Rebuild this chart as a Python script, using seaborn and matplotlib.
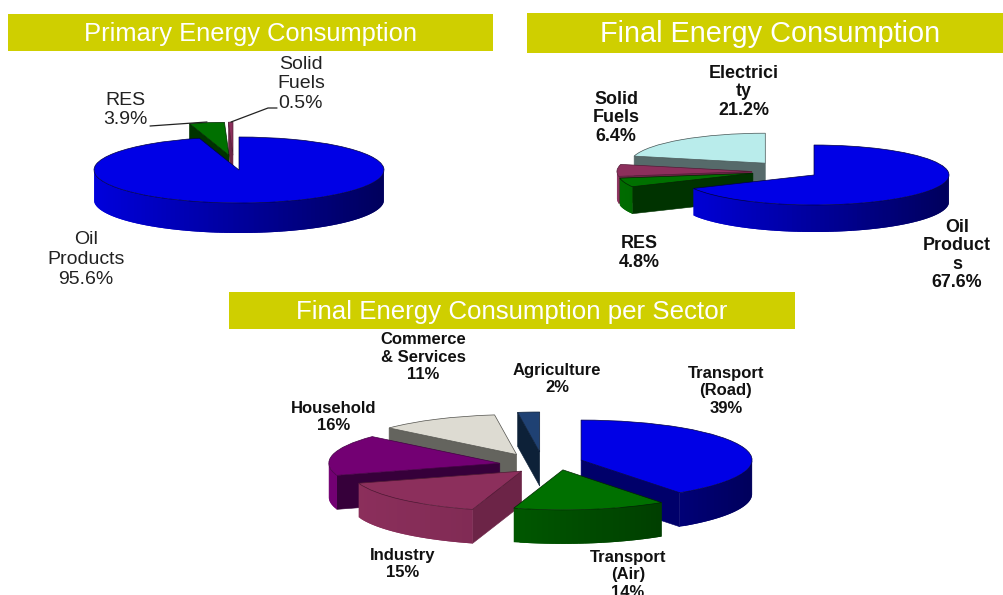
import numpy as np
import matplotlib
matplotlib.use("Agg")
import matplotlib.pyplot as plt
from matplotlib.colors import to_rgb
import seaborn as sns

# ---------- data ----------
primary_names = ["Oil\nProducts", "RES", "Solid\nFuels"]
primary_values = [95.6, 3.9, 0.5]

final_names = ["Oil\nProduct\ns", "RES", "Solid\nFuels", "Electrici\nty"]
final_values = [67.6, 4.8, 6.4, 21.2]

sector_names = ["Transport\n(Road)", "Transport\n(Air)", "Industry", "Household",
                "Commerce\n& Services", "Agriculture"]
sector_values = [39, 14, 15, 16, 11, 2]

titles = ["Primary Energy Consumption", "Final Energy Consumption",
          "Final Energy Consumption per Sector"]

# ---------- style ----------
W, H = 1004, 595
BAR = "#CFCF00"
sns.set_theme(style="white")
plt.rcParams["font.family"] = ["Liberation Sans", "DejaVu Sans"]

# top colour, rim left colour, rim right colour, cut-face colour
BLUE = ("#0000E6", "#0000DC", "#00005C", "#00006A")
GREEN = ("#007000", "#006C00", "#003300", "#003300")
MAROON = ("#8C2F5C", "#8C2F5C", "#6C2447", "#6C2447")
PURPLE = ("#730073", "#730073", "#5A005A", "#36003A")
CYAN = ("#B9ECEB", "#5A6E6E", "#5A6E6E", "#566A6A")
STONE = ("#DDDBD2", "#6A6A64", "#6A6A64", "#64645E")
NAVY = ("#1F4173", "#1F4173", "#122B4C", "#0D2138")


def mix(a, b, t):
    a, b = np.array(to_rgb(a)), np.array(to_rgb(b))
    return tuple(a * (1 - t) + b * t)


def pie3d(fig, values, styles, explode, order, cx, cy, rx, ry, depth, nudge=None):
    ax = fig.add_axes([0, 0, 1, 1], facecolor="none")
    wedges, _ = ax.pie(values, explode=explode, startangle=90, counterclock=False,
                       colors=[s[0] for s in styles], radius=1, frame=False)
    ax.set_aspect("auto")
    ax.set_xlim(-cx / rx, (W - cx) / rx)
    ax.set_ylim((cy - H) / ry, cy / ry)
    ax.axis("off")
    d = depth / ry
    nudge = nudge or {}
    for i, w in enumerate(wedges):
        top, left, right, face = styles[i]
        z = 10 + 10 * order[i]
        c0, c1 = w.center
        ndx, ndy = nudge.get(i, (0, 0))
        c0 += ndx / rx
        c1 -= ndy / ry
        w.set_center((c0, c1))
        w.set_zorder(z + 3)
        w.set_edgecolor(mix(right, "#000000", 0.25))
        w.set_linewidth(0.5)
        lo, hi = min(w.theta1, w.theta2), max(w.theta1, w.theta2)
        # cut faces that turn towards the viewer
        for ang, visible in ((lo, np.cos(np.radians(lo)) > 1e-6),
                             (hi, np.cos(np.radians(hi)) < -1e-6)):
            if visible:
                ex = c0 + np.cos(np.radians(ang))
                ey = c1 + np.sin(np.radians(ang))
                ax.fill([c0, ex, ex, c0], [c1, ey, ey - d, c1 - d], color=face,
                        lw=0.4, zorder=z + 1)
        # outer rim, in overlapping strips for the shading
        steps = np.clip(np.arange(lo, hi + 2, 2.0), lo, hi)
        for k, (a, b) in enumerate(zip(steps[:-1], steps[1:])):
            m = np.radians((a + b) / 2)
            if np.sin(m) >= 0:
                continue
            arc = np.radians(np.linspace(a, min(b + 2.0, hi), 6))
            arc = arc[np.sin(arc) <= 1e-9]
            xs = np.concatenate([c0 + np.cos(arc), c0 + np.cos(arc[::-1])])
            ys = np.concatenate([c1 + np.sin(arc), c1 + np.sin(arc[::-1]) - d])
            col = mix(left, right, (np.cos(m) + 1) / 2)
            ax.fill(xs, ys, color=col, lw=0, zorder=z + 2 + k * 1e-4)
    return ax


fig = plt.figure(figsize=(W / 100, H / 100), dpi=100, facecolor="white")

pie3d(fig, primary_values, [BLUE, GREEN, MAROON], [0, 0.45, 0.45], [2, 1, 0],
      239, 170, 145, 33, 30, nudge={2: (-5, 0)})
pie3d(fig, final_values, [BLUE, GREEN, MAROON, CYAN], [0, 0.46, 0.46, 0.5], [3, 2, 1, 0],
      814, 175, 135, 30, 27, nudge={1: (-2, -6), 2: (0, -3), 3: (-7, 0)})
pie3d(fig, sector_values, [BLUE, GREEN, MAROON, PURPLE, STONE, NAVY],
      [0.16, 0.25, 0.32, 0.33, 0.38, 0.3], [4, 5, 3, 2, 1, 0],
      555, 462, 171, 40, 34,
      nudge={1: (1, -2), 2: (5, 0), 3: (0, 4), 4: (-8, 6), 5: (-12, 2)})

# overlay in pixel coordinates: title bands, labels, leader lines
ov = fig.add_axes([0, 0, 1, 1], facecolor="none", zorder=20)
ov.set_xlim(0, W)
ov.set_ylim(H, 0)
ov.axis("off")

bands = [(8, 14, 485, 37, 251, 34.5, 18.4), (527, 13, 477, 40, 770, 34.5, 20.8),
         (229, 292, 566, 37, 512, 312, 18.6)]
for title, (x, y, w, h, tx, ty, fs) in zip(titles, bands):
    ov.fill([x, x + w, x + w, x], [y, y, y + h, y + h], color=BAR, lw=0)
    ov.text(tx, ty, title, color="white", fontsize=fs, ha="center", va="center")

primary_pos = [(86, 259.5), (125, 110), (301, 84)]
for name, v, (x, y) in zip(primary_names, primary_values, primary_pos):
    ov.text(x, y, f"{name}\n{v}%", ha="center", va="center", fontsize=14,
            color="#222222", linespacing=1.2)

final_pos = [(957, 255), (639, 253), (616, 118), (744, 92)]
for name, v, (x, y) in zip(final_names, final_values, final_pos):
    ov.text(x, y, f"{name}\n{v}%", ha="center", va="center", fontsize=12.9,
            fontweight="bold", color="#111111", linespacing=1.1)

sector_pos = [(726, 391), (628, 575), (403, 564), (334, 417), (423, 357), (557, 379)]
for name, v, (x, y) in zip(sector_names, sector_values, sector_pos):
    ov.text(x, y, f"{name}\n{v}%", ha="center", va="center", fontsize=12,
            fontweight="bold", color="#111111", linespacing=1.2)

ov.plot([150, 207], [126, 122], color="#222222", lw=0.9)
ov.plot([277, 268, 231], [108, 108, 122], color="#222222", lw=0.9)

fig.savefig("out.png", dpi=100)
